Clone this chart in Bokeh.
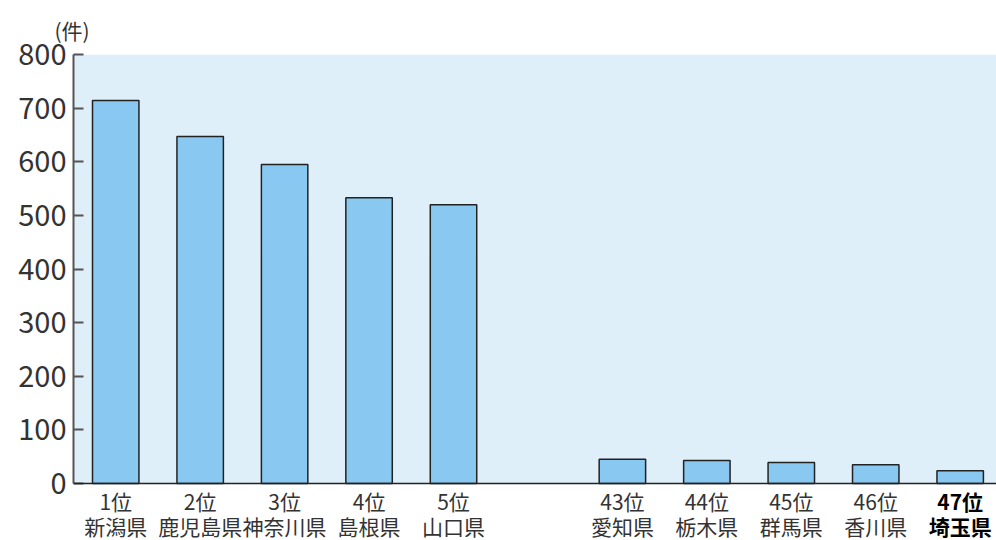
from bokeh.plotting import figure
from bokeh.models import Range1d, FixedTicker, BoxAnnotation, Span
from bokeh.core.properties import value
from bokeh.embed import file_html
from bokeh.resources import INLINE

ranks = ["1位", "2位", "3位", "4位", "5位", "43位", "44位", "45位", "46位", "47位"]
prefs = ["新潟県", "鹿児島県", "神奈川県", "島根県", "山口県", "愛知県", "栃木県", "群馬県", "香川県", "埼玉県"]
counts = [714, 647, 595, 533, 520, 45, 43, 39, 35, 24]
y_ticks = [0, 100, 200, 300, 400, 500, 600, 700, 800]
unit_label = "(件)"

# slot positions: five top ranks, one empty slot, five bottom ranks
slots = [i if i < 5 else i + 1 for i in range(len(counts))]

FONT = "Noto Sans CJK JP"
Y_MAX = 800
PX = Y_MAX / 429.0          # data units per pixel (0 -> 800 spans 429 px)
Y_LO = -57 * PX             # room for the category labels inside the frame

p = figure(width=996, height=540, output_backend="svg", toolbar_location=None,
           x_range=Range1d(-0.5, 10.43), y_range=Range1d(Y_LO, Y_MAX),
           min_border_left=73, min_border_right=0, min_border_top=54, min_border_bottom=0)
p.background_fill_color = "white"
p.border_fill_color = "white"
p.outline_line_color = None
p.grid.visible = False
p.xaxis.visible = False

p.title.text = unit_label
p.title.text_font = FONT
p.title.text_font_size = "21px"
p.title.text_font_style = "normal"
p.title.text_color = "#333333"
p.title.offset = -19
p.title.standoff = 20

p.add_layout(BoxAnnotation(bottom=0, top=Y_MAX, fill_color="#dfeffa", fill_alpha=1,
                           line_color=None, level="underlay"))

p.vbar(x=slots, top=counts, width=0.55, bottom=0,
       fill_color="#89c8f0", line_color="#222222", line_width=1.5)

p.add_layout(Span(location=0, dimension="width", line_color="#222222", line_width=1.5))

# y axis
p.yaxis.bounds = (0, Y_MAX)
p.yaxis.ticker = FixedTicker(ticks=y_ticks)
p.yaxis.major_label_text_font = FONT
p.yaxis.major_label_text_font_size = "29px"
p.yaxis.major_label_text_color = "#333333"
p.yaxis.major_tick_in = 10
p.yaxis.major_tick_out = 0
p.yaxis.minor_tick_line_color = None
p.yaxis.axis_line_color = "#555555"
p.yaxis.axis_line_width = 2
p.yaxis.major_tick_line_color = "#555555"
p.yaxis.major_tick_line_width = 2
p.yaxis.major_label_standoff = 7

n = len(ranks)
rank_y = [-17 * PX] * n
pref_y = [-42 * PX] * n
for idx, style, color in ((list(range(n - 1)), "normal", "#333333"), ([n - 1], "bold", "#000000")):
    xs = [slots[i] for i in idx]
    for texts, ys in (([ranks[i] for i in idx], [rank_y[i] for i in idx]),
                      ([prefs[i] for i in idx], [pref_y[i] for i in idx])):
        p.text(x=xs, y=ys, text=texts, text_align="center", text_baseline="middle",
               text_font=value(FONT), text_font_size="21px",
               text_font_style=style, text_color=color)

open("out.html", "w").write(file_html(p, INLINE))
